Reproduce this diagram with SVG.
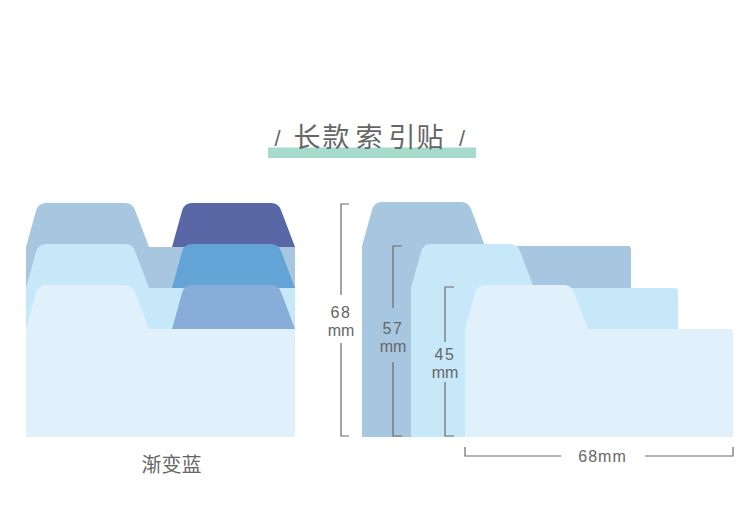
<svg xmlns="http://www.w3.org/2000/svg" width="750" height="507" viewBox="0 0 750 507">
  <defs>
    <style>
      .c1 { fill: #a7c7e0; }
      .c2 { fill: #c7e8f9; }
      .c3 { fill: #e0f1fc; }
      .t1 { fill: #5967a6; }
      .t2 { fill: #63a3d5; }
      .t3 { fill: #88add8; }
      .dim { fill: none; stroke: #6a6a6a; stroke-width: 1.2; }
      .num { font-family: "Liberation Sans", Arial, sans-serif; font-size: 16px; fill: #666; text-anchor: middle; }
      .cjk { font-family: "Noto Sans CJK SC", "Noto Sans", sans-serif; fill: #666; }
      .slash { font-family: "Liberation Sans", Arial, sans-serif; font-size: 22px; fill: #666; text-anchor: middle; }
    </style>
    <!-- tab outline, 123 wide, 44 high, closed at bottom -->
    <path id="tab" d="M0,44 L10,8 Q12.2,0 20,0 L99,0 Q106.4,0 109,7 L123,44 Z"/>
  </defs>

  <!-- title -->
  <g id="title">
    <rect x="268" y="147.5" width="208" height="10.5" fill="#a7dccd"/>
    <text class="slash" x="277.5" y="146">/</text>
    <text class="cjk" font-size="27" x="293.5 322.5 355.5 388.5 416.5" y="147">长款索引贴</text>
    <text class="slash" x="462" y="146">/</text>
  </g>

  <!-- left group: gradient blue set -->
  <g id="row1">
    <path class="c1" d="M26,247 L36,211 Q38.2,203 46,203 L125,203 Q132.4,203 135,210 L149,247 L295,247 L295,437 L26,437 Z"/>
    <use href="#tab" class="t1" x="172" y="203"/>
  </g>
  <g id="row2">
    <path class="c2" d="M26,288 L36,252 Q38.2,244 46,244 L125,244 Q132.4,244 135,251 L149,288 L295,288 L295,437 L26,437 Z"/>
    <use href="#tab" class="t2" x="172" y="244"/>
  </g>
  <g id="row3">
    <path class="c3" d="M26,329 L36,293 Q38.2,285 46,285 L125,285 Q132.4,285 135,292 L149,329 L295,329 L295,437 L26,437 Z"/>
    <use href="#tab" class="t3" x="172" y="285"/>
  </g>
  <g id="label-left">
    <text class="cjk" x="171.5" y="472" font-size="20" text-anchor="middle" fill="#555">渐变蓝</text>
  </g>

  <!-- right group: three sizes -->
  <g id="sheet-68">
    <path class="c1" d="M362,246 L372,210 Q374.2,202 382,202 L461,202 Q468.4,202 471,209 L485,246 L628,246 Q631,246 631,249 L631,437 L362,437 Z"/>
  </g>
  <g id="sheet-57">
    <path class="c2" d="M411,288 L421,252 Q423.2,244 431,244 L510,244 Q517.4,244 520,251 L534,288 L675,288 Q678,288 678,291 L678,437 L411,437 Z"/>
  </g>
  <g id="sheet-45">
    <path class="c3" d="M465,329 L475,293 Q477.2,285 485,285 L564,285 Q571.4,285 574,292 L588,329 L730,329 Q733,329 733,332 L733,437 L465,437 Z"/>
  </g>

  <!-- dimension connectors -->
  <g id="dimensions">
    <path class="dim" d="M349,204 H341 V295 M341,343 V436 H349"/>
    <path class="dim" d="M402,246 H393 V308 M393,362 V436 H402"/>
    <path class="dim" d="M454,287 H445 V342 M445,382 V436 H454"/>
    <path class="dim" d="M465,447 V456 H561 M645,456 H733 V447"/>
  </g>
  <g id="dim-labels">
    <text class="num" x="341" y="317.5" letter-spacing="1.5">68</text>
    <text class="num" x="341" y="336">mm</text>
    <text class="num" x="393" y="333.5" letter-spacing="1.5">57</text>
    <text class="num" x="393" y="352">mm</text>
    <text class="num" x="445" y="359.5" letter-spacing="1.5">45</text>
    <text class="num" x="445" y="378">mm</text>
    <text class="num" x="602.5" y="462" font-size="17" letter-spacing="1">68mm</text>
  </g>
</svg>
